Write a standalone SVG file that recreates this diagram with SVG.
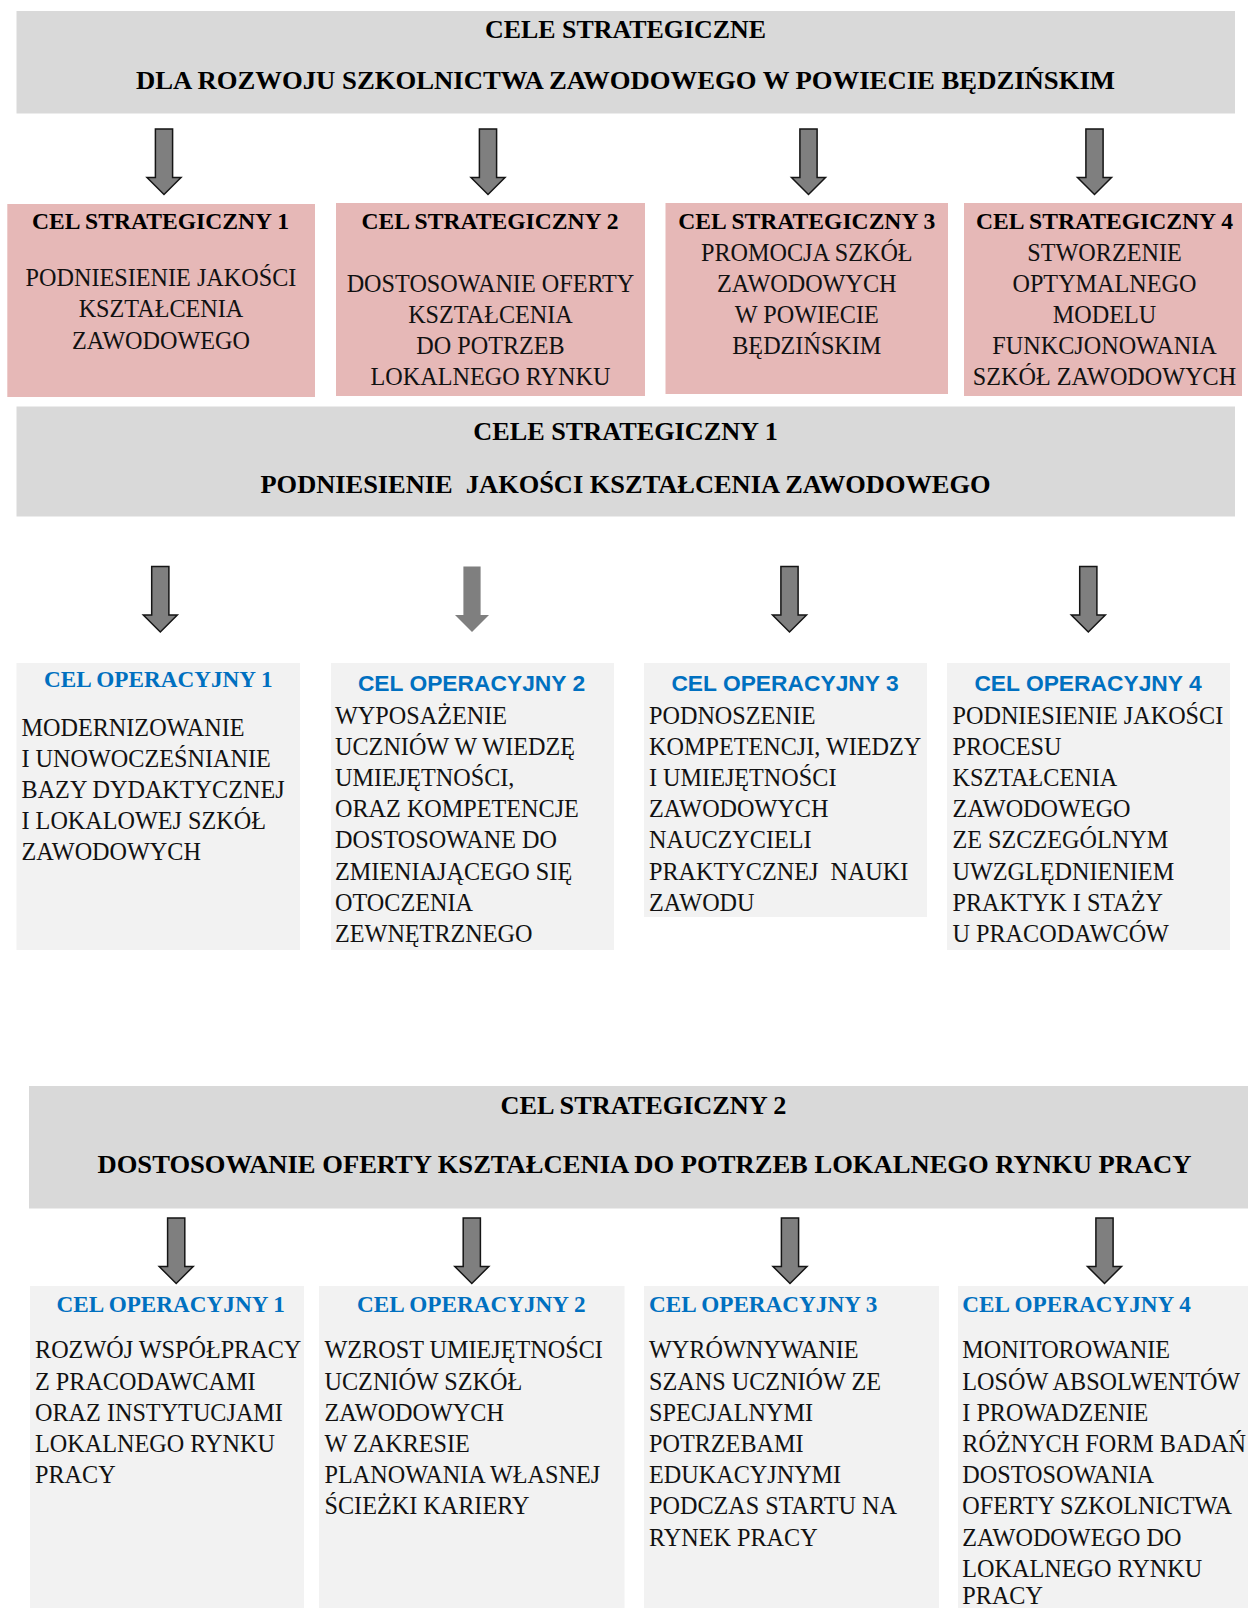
<svg xmlns="http://www.w3.org/2000/svg" xmlns:xlink="http://www.w3.org/1999/xlink" width="1248" height="1608" viewBox="0 0 1248 1608">
<style>
.banner{fill:#d9d9d9}
.pink{fill:#e6b8b7}
.op{fill:#f2f2f2}
.arrow{fill:#7f7f7f;stroke:#151515;stroke-width:1.5}
.arrow-plain{fill:#7f7f7f}
.hb{font-family:"Liberation Serif",serif;font-weight:bold;font-size:26px;fill:#000;text-anchor:middle}
.pt{font-family:"Liberation Serif",serif;font-weight:bold;font-size:23.6px;fill:#000;text-anchor:middle}
.body{font-family:"Liberation Serif",serif;font-size:24.2px;fill:#111}
.c{text-anchor:middle}
.ots{font-family:"Liberation Sans",sans-serif;font-weight:bold;font-size:22.8px;fill:#0070c0;text-anchor:middle}
.otb{font-family:"Liberation Serif",serif;font-weight:bold;font-size:23.2px;fill:#0070c0}
</style>
<defs>
<path id="arr" d="M-8.6,0 h17.2 v48.5 h8.4 L0,65.5 L-17,48.5 h8.4 z"/>
</defs>

<g id="connectors">
<use xlink:href="#arr" href="#arr" class="arrow" x="164" y="129"/>
<use xlink:href="#arr" href="#arr" class="arrow" x="488" y="129"/>
<use xlink:href="#arr" href="#arr" class="arrow" x="808.5" y="129"/>
<use xlink:href="#arr" href="#arr" class="arrow" x="1094.5" y="129"/>
<use xlink:href="#arr" href="#arr" class="arrow" x="160.3" y="566.5"/>
<use xlink:href="#arr" href="#arr" class="arrow-plain" x="472" y="566.5"/>
<use xlink:href="#arr" href="#arr" class="arrow" x="789.5" y="566.5"/>
<use xlink:href="#arr" href="#arr" class="arrow" x="1088.3" y="566.5"/>
<use xlink:href="#arr" href="#arr" class="arrow" x="176.2" y="1218"/>
<use xlink:href="#arr" href="#arr" class="arrow" x="471.8" y="1218"/>
<use xlink:href="#arr" href="#arr" class="arrow" x="790" y="1218"/>
<use xlink:href="#arr" href="#arr" class="arrow" x="1104.5" y="1218"/>
</g>

<g id="cele-strategiczne">
<rect class="banner" x="16.5" y="11" width="1218.5" height="102.5"/>
<text class="hb" x="625.5" y="38.3" textLength="281" lengthAdjust="spacingAndGlyphs">CELE STRATEGICZNE</text>
<text class="hb" x="625.5" y="89.3" textLength="979" lengthAdjust="spacingAndGlyphs">DLA ROZWOJU SZKOLNICTWA ZAWODOWEGO W POWIECIE BĘDZIŃSKIM</text>
</g>

<g id="cel-strategiczny-1">
<rect class="pink" x="7.3" y="204" width="307.7" height="193"/>
<text class="pt" x="160.5" y="229.3">CEL STRATEGICZNY 1</text>
<text class="body c"><tspan x="161" y="286">PODNIESIENIE JAKOŚCI</tspan><tspan x="161" y="317.3">KSZTAŁCENIA</tspan><tspan x="161" y="348.5">ZAWODOWEGO</tspan></text>
</g>

<g id="cel-strategiczny-2">
<rect class="pink" x="336" y="203" width="309" height="193"/>
<text class="pt" x="490" y="229">CEL STRATEGICZNY 2</text>
<text class="body c"><tspan x="490.5" y="292">DOSTOSOWANIE OFERTY</tspan><tspan x="490.5" y="323">KSZTAŁCENIA</tspan><tspan x="490.5" y="354.3">DO POTRZEB</tspan><tspan x="490.5" y="385.3">LOKALNEGO RYNKU</tspan></text>
</g>

<g id="cel-strategiczny-3">
<rect class="pink" x="665.5" y="203" width="282.5" height="191"/>
<text class="pt" x="806.8" y="229">CEL STRATEGICZNY 3</text>
<text class="body c"><tspan x="806.8" y="260.5">PROMOCJA SZKÓŁ</tspan><tspan x="806.8" y="291.8">ZAWODOWYCH</tspan><tspan x="806.8" y="323">W POWIECIE</tspan><tspan x="806.8" y="354.3">BĘDZIŃSKIM</tspan></text>
</g>

<g id="cel-strategiczny-4">
<rect class="pink" x="964" y="203" width="278" height="193"/>
<text class="pt" x="1104.5" y="229">CEL STRATEGICZNY 4</text>
<text class="body c"><tspan x="1104.5" y="260.5">STWORZENIE</tspan><tspan x="1104.5" y="291.8">OPTYMALNEGO</tspan><tspan x="1104.5" y="323">MODELU</tspan><tspan x="1104.5" y="354.3">FUNKCJONOWANIA</tspan><tspan x="1104.5" y="385.3">SZKÓŁ ZAWODOWYCH</tspan></text>
</g>

<g id="cele-strategiczny-1-banner">
<rect class="banner" x="16.5" y="406.5" width="1218.5" height="110"/>
<text class="hb" x="625.5" y="439.6" textLength="304.5" lengthAdjust="spacingAndGlyphs">CELE STRATEGICZNY 1</text>
<text class="hb" x="625.5" y="492.7" textLength="730" lengthAdjust="spacingAndGlyphs">PODNIESIENIE&#160; JAKOŚCI KSZTAŁCENIA ZAWODOWEGO</text>
</g>

<g id="cs1-cel-operacyjny-1">
<rect class="op" x="16.5" y="663" width="283.5" height="287"/>
<text class="otb c" x="158.3" y="687">CEL OPERACYJNY 1</text>
<text class="body"><tspan x="21.5" y="735.5">MODERNIZOWANIE</tspan><tspan x="21.5" y="766.5">I UNOWOCZEŚNIANIE</tspan><tspan x="21.5" y="797.5">BAZY DYDAKTYCZNEJ</tspan><tspan x="21.5" y="828.5">I LOKALOWEJ SZKÓŁ</tspan><tspan x="21.5" y="859.5">ZAWODOWYCH</tspan></text>
</g>

<g id="cs1-cel-operacyjny-2">
<rect class="op" x="331" y="663" width="283" height="287"/>
<text class="ots" x="471.5" y="690.7">CEL OPERACYJNY 2</text>
<text class="body"><tspan x="335" y="723.5">WYPOSAŻENIE</tspan><tspan x="335" y="754.7">UCZNIÓW W WIEDZĘ</tspan><tspan x="335" y="785.9">UMIEJĘTNOŚCI,</tspan><tspan x="335" y="817.1">ORAZ KOMPETENCJE</tspan><tspan x="335" y="848.3">DOSTOSOWANE DO</tspan><tspan x="335" y="879.5">ZMIENIAJĄCEGO SIĘ</tspan><tspan x="335" y="910.7">OTOCZENIA</tspan><tspan x="335" y="941.9">ZEWNĘTRZNEGO</tspan></text>
</g>

<g id="cs1-cel-operacyjny-3">
<rect class="op" x="644" y="663" width="283" height="254"/>
<text class="ots" x="785" y="690.7">CEL OPERACYJNY 3</text>
<text class="body"><tspan x="649" y="723.5">PODNOSZENIE</tspan><tspan x="649" y="754.7">KOMPETENCJI, WIEDZY</tspan><tspan x="649" y="785.9">I UMIEJĘTNOŚCI</tspan><tspan x="649" y="817.1">ZAWODOWYCH</tspan><tspan x="649" y="848.3">NAUCZYCIELI</tspan><tspan x="649" y="879.5">PRAKTYCZNEJ&#160; NAUKI</tspan><tspan x="649" y="910.7">ZAWODU</tspan></text>
</g>

<g id="cs1-cel-operacyjny-4">
<rect class="op" x="947" y="663" width="283" height="287"/>
<text class="ots" x="1088" y="690.7">CEL OPERACYJNY 4</text>
<text class="body"><tspan x="952.5" y="723.5">PODNIESIENIE JAKOŚCI</tspan><tspan x="952.5" y="754.7">PROCESU</tspan><tspan x="952.5" y="785.9">KSZTAŁCENIA</tspan><tspan x="952.5" y="817.1">ZAWODOWEGO</tspan><tspan x="952.5" y="848.3">ZE SZCZEGÓLNYM</tspan><tspan x="952.5" y="879.5">UWZGLĘDNIENIEM</tspan><tspan x="952.5" y="910.7">PRAKTYK I STAŻY</tspan><tspan x="952.5" y="941.9">U PRACODAWCÓW</tspan></text>
</g>

<g id="cel-strategiczny-2-banner">
<rect class="banner" x="29" y="1086" width="1219" height="122.5"/>
<text class="hb" x="643.5" y="1113.6" textLength="286" lengthAdjust="spacingAndGlyphs">CEL STRATEGICZNY 2</text>
<text class="hb" x="644.5" y="1172.5" textLength="1094" lengthAdjust="spacingAndGlyphs">DOSTOSOWANIE OFERTY KSZTAŁCENIA DO POTRZEB LOKALNEGO RYNKU PRACY</text>
</g>

<g id="cs2-cel-operacyjny-1">
<rect class="op" x="30" y="1286" width="274" height="322"/>
<text class="otb c" x="170.7" y="1312.3">CEL OPERACYJNY 1</text>
<text class="body"><tspan x="35" y="1358.3">ROZWÓJ WSPÓŁPRACY</tspan><tspan x="35" y="1389.5">Z PRACODAWCAMI</tspan><tspan x="35" y="1420.7">ORAZ INSTYTUCJAMI</tspan><tspan x="35" y="1451.9">LOKALNEGO RYNKU</tspan><tspan x="35" y="1483.1">PRACY</tspan></text>
</g>

<g id="cs2-cel-operacyjny-2">
<rect class="op" x="319" y="1286" width="305.5" height="322"/>
<text class="otb c" x="471.3" y="1312.3">CEL OPERACYJNY 2</text>
<text class="body"><tspan x="324.5" y="1358.3">WZROST UMIEJĘTNOŚCI</tspan><tspan x="324.5" y="1389.5">UCZNIÓW SZKÓŁ</tspan><tspan x="324.5" y="1420.7">ZAWODOWYCH</tspan><tspan x="324.5" y="1451.9">W ZAKRESIE</tspan><tspan x="324.5" y="1483.1">PLANOWANIA WŁASNEJ</tspan><tspan x="324.5" y="1514.3">ŚCIEŻKI KARIERY</tspan></text>
</g>

<g id="cs2-cel-operacyjny-3">
<rect class="op" x="644" y="1286" width="295" height="322"/>
<text class="otb" x="649" y="1312.3">CEL OPERACYJNY 3</text>
<text class="body"><tspan x="649" y="1358.3">WYRÓWNYWANIE</tspan><tspan x="649" y="1389.5">SZANS UCZNIÓW ZE</tspan><tspan x="649" y="1420.7">SPECJALNYMI</tspan><tspan x="649" y="1451.9">POTRZEBAMI</tspan><tspan x="649" y="1483.1">EDUKACYJNYMI</tspan><tspan x="649" y="1514.3">PODCZAS STARTU NA</tspan><tspan x="649" y="1545.5">RYNEK PRACY</tspan></text>
</g>

<g id="cs2-cel-operacyjny-4">
<rect class="op" x="958" y="1286" width="290" height="322"/>
<text class="otb" x="962.3" y="1312.3">CEL OPERACYJNY 4</text>
<text class="body"><tspan x="962.3" y="1358.3">MONITOROWANIE</tspan><tspan x="962.3" y="1389.5">LOSÓW ABSOLWENTÓW</tspan><tspan x="962.3" y="1420.7">I PROWADZENIE</tspan><tspan x="962.3" y="1451.9">RÓŻNYCH FORM BADAŃ</tspan><tspan x="962.3" y="1483.1">DOSTOSOWANIA</tspan><tspan x="962.3" y="1514.3">OFERTY SZKOLNICTWA</tspan><tspan x="962.3" y="1545.5">ZAWODOWEGO DO</tspan><tspan x="962.3" y="1576.7">LOKALNEGO RYNKU</tspan><tspan x="962.3" y="1603.5">PRACY</tspan></text>
</g>
</svg>
